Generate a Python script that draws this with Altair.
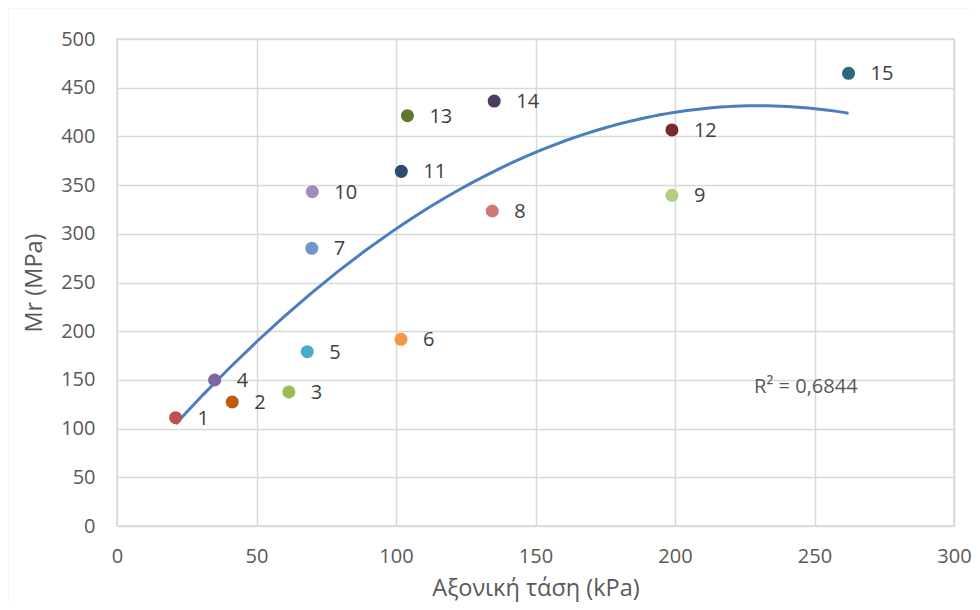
import altair as alt
import pandas as pd

ids = [str(i) for i in range(1, 16)]
stress = [21.0, 41.3, 61.6, 35.0, 68.2, 101.8, 69.8, 134.5, 198.9, 70.0, 101.9, 198.9, 104.1, 135.2, 262.2]
mr = [111.2, 127.3, 137.6, 149.9, 179.0, 191.7, 285.1, 323.4, 339.5, 343.2, 364.1, 406.6, 421.3, 436.3, 464.8]
colors = ["#C0504D", "#BF5B0F", "#9BBB59", "#8064A2", "#4BACC6", "#F79646", "#6F97CD",
          "#D07A78", "#B3CC82", "#A08DBE", "#2C4D75", "#772C2A", "#5F7530", "#4D3B62", "#276A7C"]
r2_text = ["R² = 0,6844"]
r2_pos = [246.9, 142.7]

df = pd.DataFrame({"id": ids, "x": stress, "y": mr})

FONT = "Open Sans"
W, H = 837, 487

xs = alt.Scale(domain=[0, 300], nice=False)
ys = alt.Scale(domain=[0, 500], nice=False)

base = alt.Chart(df)

border = alt.Chart(pd.DataFrame({"a": [0]})).mark_rect(
    fill=None, stroke="#D9D9D9", strokeWidth=1.5, clip=False
).encode(
    x=alt.value(-109.5), x2=alt.value(W + 60),
    y=alt.value(-31.5), y2=alt.value(H + 120)
)

points = base.mark_circle(size=170, opacity=1).encode(
    x=alt.X("x:Q", scale=xs,
            axis=alt.Axis(values=list(range(0, 301, 50)), title="Αξονική τάση (kPa)")),
    y=alt.Y("y:Q", scale=ys,
            axis=alt.Axis(values=list(range(0, 501, 50)), title="Mr (MPa)")),
    color=alt.Color("id:N", scale=alt.Scale(domain=ids, range=colors), legend=None),
)

labels = base.mark_text(align="left", baseline="middle", dx=22, dy=1,
                        font=FONT, fontSize=20, color="#404040").encode(
    x=alt.X("x:Q", scale=xs), y=alt.Y("y:Q", scale=ys), text="id:N"
)

trend = base.transform_regression("x", "y", method="poly", order=2).mark_line(
    color="#4A7EBE", strokeWidth=3
).encode(x=alt.X("x:Q", scale=xs), y=alt.Y("y:Q", scale=ys))

r2 = alt.Chart(pd.DataFrame({"t": r2_text, "x": [r2_pos[0]], "y": [r2_pos[1]]})).mark_text(
    font=FONT, fontSize=20, color="#595959", align="center", baseline="middle"
).encode(x=alt.X("x:Q", scale=xs), y=alt.Y("y:Q", scale=ys), text="t:N")

chart = alt.layer(border, trend, points, labels, r2).properties(
    width=W, height=H,
    autosize=alt.AutoSizeParams(type="none"),
    padding={"left": 109, "top": 31, "right": 18, "bottom": 76},
).configure_view(stroke="#D9D9D9", strokeWidth=1.5).configure_axis(
    grid=True, gridColor="#D9D9D9", gridWidth=1.5,
    domain=False, ticks=False, labelFlush=False,
    labelFont=FONT, labelFontSize=20, labelColor="#595959",
    titleFont=FONT, titleFontSize=23.5, titleColor="#595959", titleFontWeight="normal",
).configure_axisX(labelPadding=20, titlePadding=10).configure_axisY(
    labelPadding=22, titlePadding=14
)

chart.save("out.html", embed_options={"renderer": "svg", "actions": False})
